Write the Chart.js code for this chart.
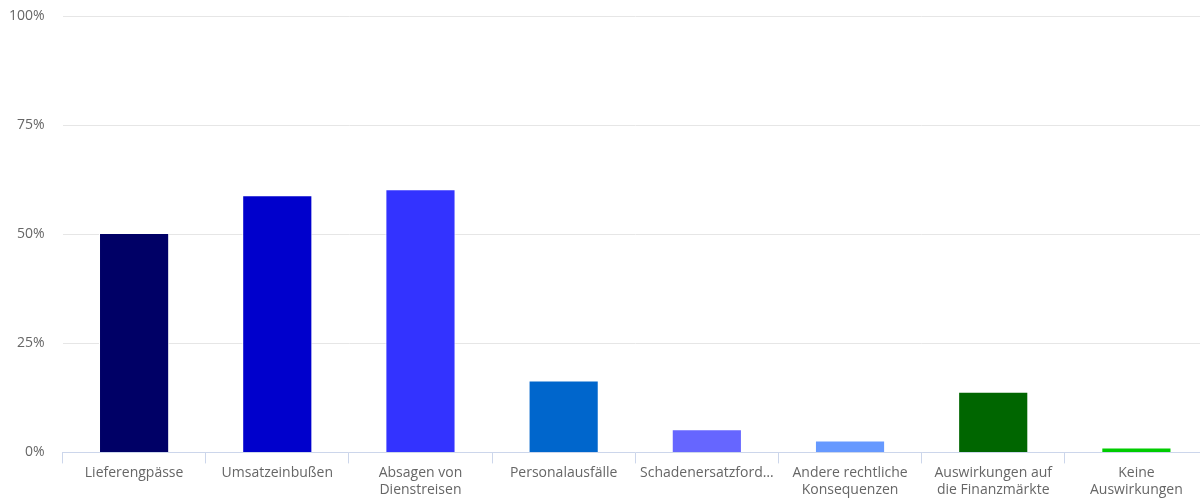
<!DOCTYPE html>
<html>
<head>
<meta charset="utf-8">
<script src="https://cdn.jsdelivr.net/npm/chart.js@4"></script>
<style>
  html, body { margin: 0; padding: 0; background: #fff; overflow: hidden; }
  #wrap { position: relative; width: 1208px; height: 499px; }
</style>
</head>
<body>
<div id="wrap"><canvas id="c"></canvas></div>
<script>
const categories = [
  "Lieferengpässe",
  "Umsatzeinbußen",
  ["Absagen von", "Dienstreisen"],
  "Personalausfälle",
  "Schadenersatzford…",
  ["Andere rechtliche", "Konsequenzen"],
  ["Auswirkungen auf", "die Finanzmärkte"],
  ["Keine", "Auswirkungen"]
];
const values = [50.3, 58.9, 60.3, 16.5, 5.3, 2.7, 13.9, 1.1];
const barColors = ["#000066", "#0000cc", "#3333ff", "#0066cc", "#6666ff", "#6699ff", "#006600", "#00cc00"];
const yTicks = [0, 25, 50, 75, 100];

new Chart(document.getElementById('c'), {
  type: 'bar',
  data: {
    labels: categories,
    datasets: [{
      data: values,
      backgroundColor: barColors,
      borderColor: '#ffffff',
      borderWidth: 1,
      barPercentage: 0.49,
      categoryPercentage: 1.0
    }]
  },
  options: {
    responsive: true,
    maintainAspectRatio: false,
    animation: false,
    layout: { padding: { top: 16, left: 0, right: 0, bottom: 0 } },
    plugins: { legend: { display: false }, tooltip: { enabled: false } },
    scales: {
      x: {
        grid: {
          offset: true,
          drawOnChartArea: false,
          drawTicks: true,
          tickLength: 11,
          color: '#ccd6eb'
        },
        border: { display: true, color: '#ccd6eb', width: 1 },
        ticks: {
          color: '#666666',
          font: { family: 'Open Sans', size: 14 },
          maxRotation: 0,
          autoSkip: false,
          padding: 1
        }
      },
      y: {
        min: 0,
        max: 100,
        afterBuildTicks: (s) => { s.ticks = yTicks.map(v => ({ value: v })); },
        afterFit: (s) => { s.width = 62.5; },
        grid: { color: '#e6e6e6', drawTicks: true, tickLength: 18, tickColor: 'rgba(0,0,0,0)' },
        border: { display: false },
        ticks: {
          color: '#666666',
          font: { family: 'Open Sans', size: 14 },
          padding: 0,
          callback: (v) => v + '%'
        }
      }
    }
  }
});
</script>
</body>
</html>
